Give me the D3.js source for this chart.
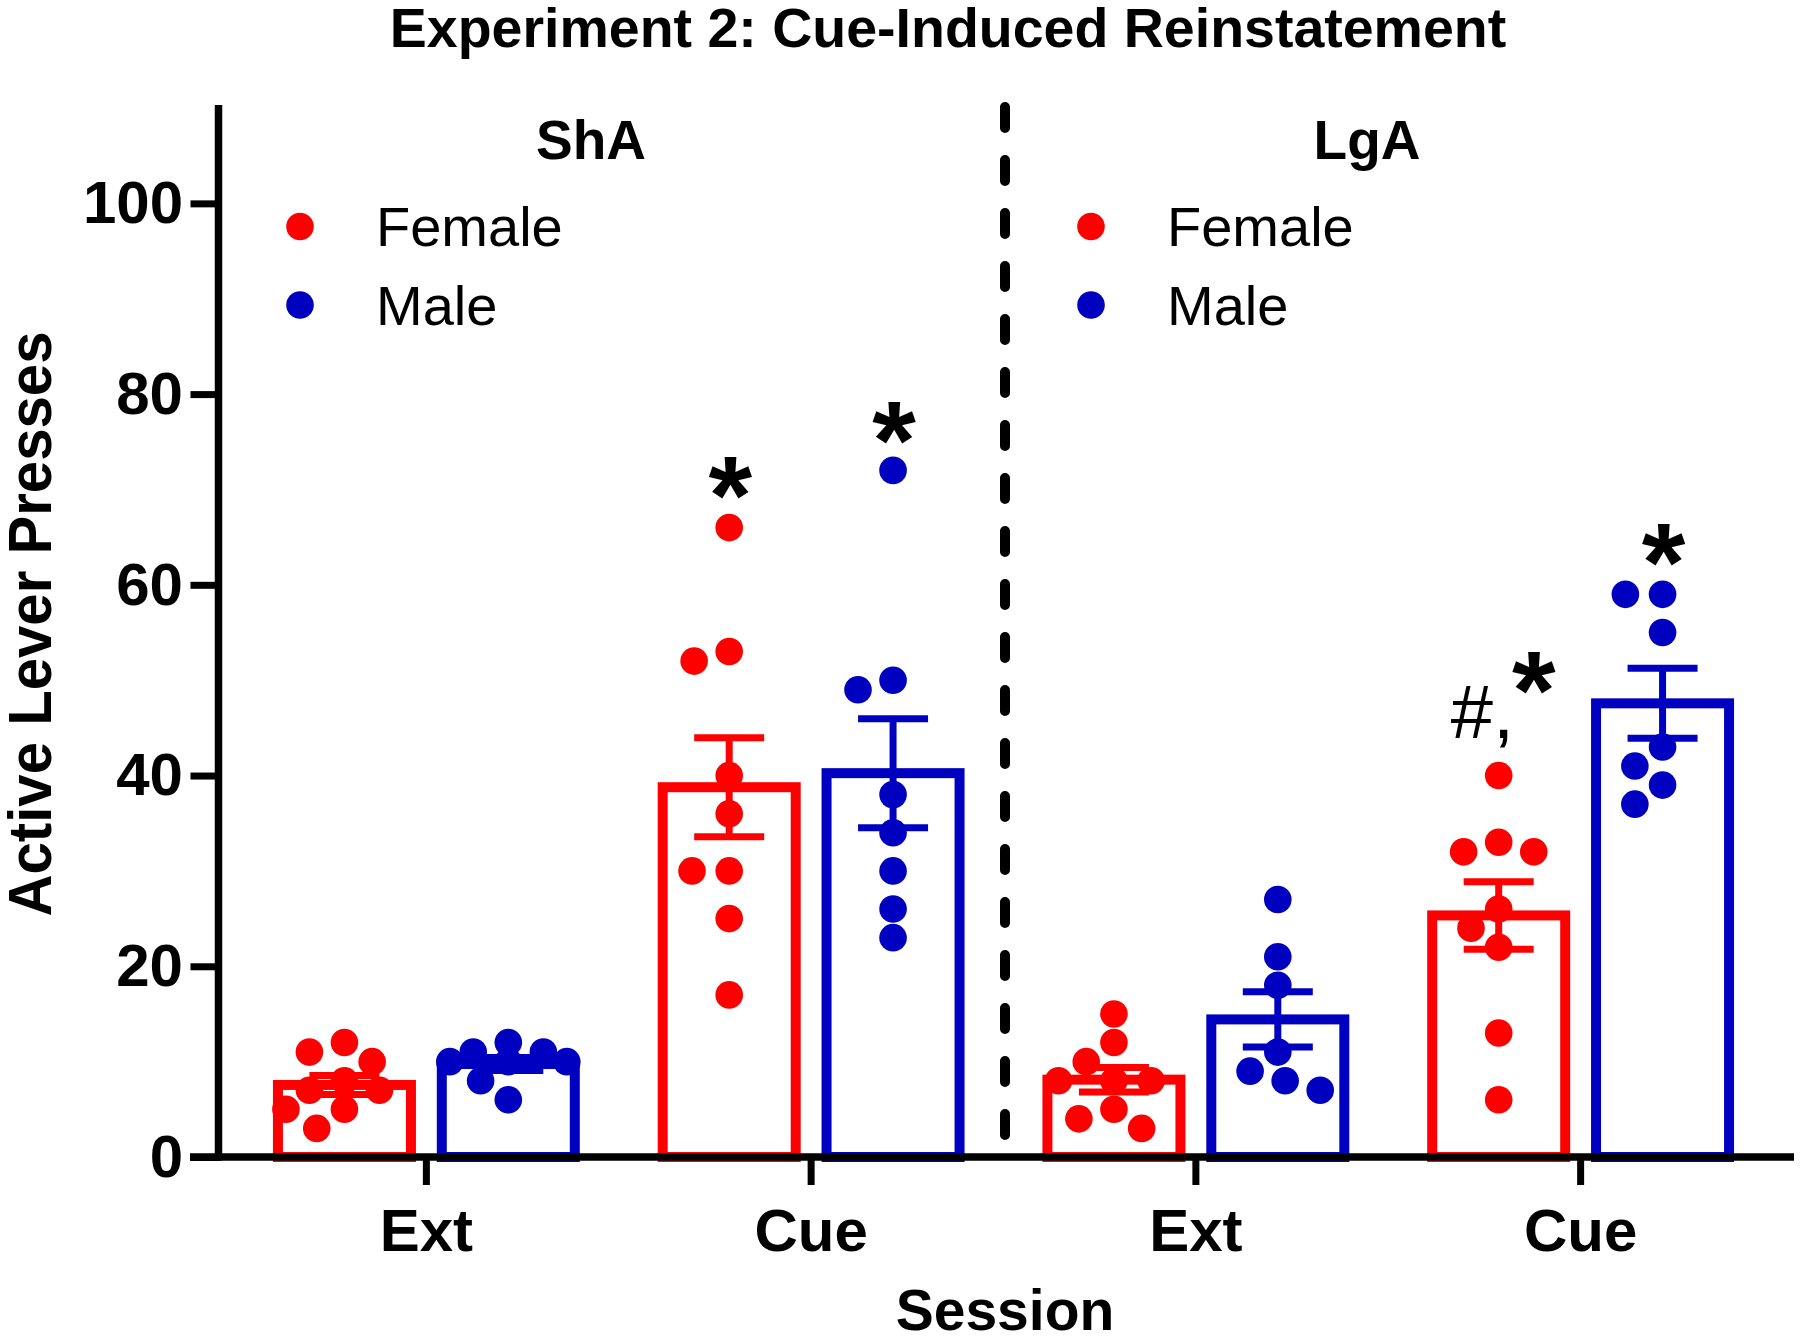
<!DOCTYPE html>
<html>
<head>
<meta charset="utf-8">
<script src="https://cdn.jsdelivr.net/npm/d3@7"></script>
<style>
  html, body { margin: 0; padding: 0; background: #ffffff; }
  svg { display: block; font-family: "Liberation Sans", Arial, Helvetica, sans-serif; }
</style>
</head>
<body>
<svg id="chart" width="1800" height="1338"></svg>
<script>
// ---------------- Data ----------------
const accessGroups = ["ShA", "LgA"];
const sessions = ["Ext", "Cue"];
const sexes = ["Female", "Male"];
const yTicks = [0, 20, 40, 60, 80, 100];

const shaExtFemale = [10, 12, 11, 7, 7, 8, 5, 5, 3];
const shaExtMale   = [11, 12, 10, 11, 10, 10, 8, 6];
const shaCueFemale = [66, 52, 53, 40, 36, 30, 30, 25, 17];
const shaCueMale   = [72, 50, 49, 38, 34, 30, 26, 23];
const lgaExtFemale = [10, 15, 12, 8, 8, 8, 3, 5, 4];
const lgaExtMale   = [27, 21, 18, 11, 9, 8, 7];
const lgaCueFemale = [40, 32, 33, 32, 26, 24, 22, 13, 6];
const lgaCueMale   = [59, 59, 55, 43, 41, 39, 37];

// significance labels: category, sex, text, value (data units) of label centre
const annotations = [
  { access: "ShA", session: "Cue", sex: "Female", text: "*",  value: 71.9 },
  { access: "ShA", session: "Cue", sex: "Male",   text: "*",  value: 77.7 },
  { access: "LgA", session: "Cue", sex: "Female", text: "#,", value: 44.0 },
  { access: "LgA", session: "Cue", sex: "Female", text: "*",  value: 51.5 },
  { access: "LgA", session: "Cue", sex: "Male",   text: "*",  value: 64.9 }
];

const colors = { Female: "#ff0000", Male: "#0000c0" };

const groups = [
  { access: "ShA", session: "Ext", sex: "Female", values: shaExtFemale },
  { access: "ShA", session: "Ext", sex: "Male",   values: shaExtMale },
  { access: "ShA", session: "Cue", sex: "Female", values: shaCueFemale },
  { access: "ShA", session: "Cue", sex: "Male",   values: shaCueMale },
  { access: "LgA", session: "Ext", sex: "Female", values: lgaExtFemale },
  { access: "LgA", session: "Ext", sex: "Male",   values: lgaExtMale },
  { access: "LgA", session: "Cue", sex: "Female", values: lgaCueFemale },
  { access: "LgA", session: "Cue", sex: "Male",   values: lgaCueMale }
];
groups.forEach(g => {
  g.mean = d3.mean(g.values);
  g.sem = d3.deviation(g.values) / Math.sqrt(g.values.length);
});

// ---------------- Layout ----------------
const svg = d3.select("#chart");
const FONT = '"Liberation Sans", Arial, Helvetica, sans-serif';
const axisX = 218.5, axisY = 1157;

const categories = [];
accessGroups.forEach(a => sessions.forEach(s => categories.push(a + "|" + s)));

const x0 = d3.scaleBand().domain(categories).range([234, 1773]).padding(0);
const x1 = d3.scaleBand().domain(sexes).range([0, x0.bandwidth()]).paddingOuter(0.174);
const y = d3.scaleLinear().domain([0, 110]).range([axisY, 108]);

const barW = 133;
const ptR = 13.8;
const cx = d => x0(d.access + "|" + d.session) + x1(d.sex) + x1.bandwidth() / 2;

// ---------------- Bars ----------------
svg.append("g").selectAll("rect").data(groups).join("rect")
  .attr("x", d => cx(d) - barW / 2)
  .attr("y", d => y(d.mean))
  .attr("width", barW)
  .attr("height", d => y(0) - y(d.mean))
  .attr("fill", "none")
  .attr("stroke", d => colors[d.sex])
  .attr("stroke-width", 10);

// ---------------- Error bars ----------------
const capW = 70;
const eb = svg.append("g").selectAll("g").data(groups).join("g")
  .attr("stroke", d => colors[d.sex]).attr("stroke-width", 7);
eb.append("line")
  .attr("x1", d => cx(d)).attr("x2", d => cx(d))
  .attr("y1", d => y(d.mean - d.sem)).attr("y2", d => y(d.mean + d.sem));
eb.append("line")
  .attr("x1", d => cx(d) - capW / 2).attr("x2", d => cx(d) + capW / 2)
  .attr("y1", d => y(d.mean + d.sem)).attr("y2", d => y(d.mean + d.sem));
eb.append("line")
  .attr("x1", d => cx(d) - capW / 2).attr("x2", d => cx(d) + capW / 2)
  .attr("y1", d => y(d.mean - d.sem)).attr("y2", d => y(d.mean - d.sem));

// ---------------- Points (beeswarm kept inside the bar width) ----------------
function swarm(values, centre) {
  const minD = 2 * ptR + 1;
  const sx = 1.3;                   // horizontal spread factor
  const maxOff = barW / 2 - 8;      // keep points within the bar
  const placed = [];
  const order = values.map((v, i) => ({ v, i })).sort((a, b) => b.v - a.v);
  const hits = (q, xx, yy) => ((q.x - xx) / sx) ** 2 + (q.y - yy) ** 2 < minD * minD - 0.01;
  order.forEach(p => {
    const py = y(p.v);
    let cands = [0, maxOff, -maxOff];
    placed.forEach(q => {
      const dy = Math.abs(q.y - py);
      if (dy < minD) {
        const dx = sx * Math.sqrt(minD * minD - dy * dy);
        cands.push(q.x - centre + dx, q.x - centre - dx);
      }
    });
    cands = cands.filter(c => Math.abs(c) <= maxOff + 0.01);
    cands.sort((a, b) => Math.abs(a) - Math.abs(b) || a - b);
    let best = null;
    for (const c of cands) {
      if (!placed.some(q => hits(q, centre + c, py))) { best = c; break; }
    }
    if (best === null) {
      let bestScore = Infinity;
      cands.forEach(c => {
        const score = d3.sum(placed, q => Math.max(0, minD - Math.hypot((q.x - centre - c) / sx, q.y - py)));
        if (score < bestScore - 0.01) { bestScore = score; best = c; }
      });
    }
    placed.push({ x: centre + best, y: py, v: p.v });
  });
  return placed;
}
const ptsG = svg.append("g");
groups.forEach(g => {
  ptsG.append("g").selectAll("circle").data(swarm(g.values, cx(g))).join("circle")
    .attr("cx", d => d.x).attr("cy", d => d.y).attr("r", ptR)
    .attr("fill", colors[g.sex]);
});

// ---------------- Dashed divider ----------------
svg.append("line")
  .attr("x1", 1005).attr("x2", 1005)
  .attr("y1", 107).attr("y2", 1142)
  .attr("stroke", "#000").attr("stroke-width", 10)
  .attr("stroke-dasharray", "21,32").attr("stroke-linecap", "round");

// ---------------- Axes ----------------
const yAxis = svg.append("g").attr("transform", `translate(${axisX},0)`)
  .call(d3.axisLeft(y).tickValues(yTicks).tickSize(28).tickPadding(7.5));
yAxis.select(".domain").remove();
yAxis.selectAll(".tick line").attr("stroke", "#000").attr("stroke-width", 7);
yAxis.selectAll(".tick text")
  .attr("font-family", FONT).attr("font-size", 60).attr("font-weight", "bold").attr("fill", "#000");

const xAxis = svg.append("g").attr("transform", `translate(0,${axisY})`)
  .call(d3.axisBottom(x0).tickSize(28).tickPadding(23).tickFormat(d => d.split("|")[1]));
xAxis.select(".domain").remove();
xAxis.selectAll(".tick line").attr("stroke", "#000").attr("stroke-width", 7);
xAxis.selectAll(".tick text")
  .attr("font-family", FONT).attr("font-size", 60).attr("font-weight", "bold").attr("fill", "#000");

svg.append("line").attr("x1", axisX).attr("x2", axisX)
  .attr("y1", y(110) - 3).attr("y2", axisY + 3.75)
  .attr("stroke", "#000").attr("stroke-width", 7.5);
svg.append("line").attr("x1", 190).attr("x2", 1794)
  .attr("y1", axisY).attr("y2", axisY)
  .attr("stroke", "#000").attr("stroke-width", 7.5);

// ---------------- Annotations ----------------
const annoG = svg.append("g");
annotations.forEach(a => {
  const g = groups.find(d => d.access === a.access && d.session === a.session && d.sex === a.sex);
  const c = cx(g);
  if (a.text === "*") {
    const dx = (a.access === "LgA" && a.sex === "Female") ? 35 : 1;
    annoG.append("text")
      .attr("x", c + dx).attr("y", y(a.value) + 63)
      .attr("text-anchor", "middle")
      .attr("font-family", FONT).attr("font-size", 112).attr("font-weight", "bold")
      .text(a.text);
  } else {
    annoG.append("text")
      .attr("x", c - 48).attr("y", y(a.value) + 1)
      .attr("font-family", FONT).attr("font-size", 76)
      .text(a.text);
  }
});

// ---------------- Titles & labels ----------------
svg.append("text").attr("x", 948).attr("y", 47).attr("text-anchor", "middle")
  .attr("font-family", FONT).attr("font-size", 55.5).attr("font-weight", "bold")
  .text("Experiment 2: Cue-Induced Reinstatement");

svg.append("text").attr("x", 1005).attr("y", 1330).attr("text-anchor", "middle")
  .attr("font-family", FONT).attr("font-size", 57).attr("font-weight", "bold")
  .text("Session");

svg.append("text")
  .attr("transform", "translate(51,624) rotate(-90)")
  .attr("text-anchor", "middle")
  .attr("font-family", FONT).attr("font-size", 62).attr("font-weight", "bold")
  .attr("textLength", 585).attr("lengthAdjust", "spacingAndGlyphs")
  .text("Active Lever Presses");

// group headers and legends
const groupHeaderX = { ShA: 591, LgA: 1367 };
const legendX = { ShA: 300, LgA: 1091 };
accessGroups.forEach(a => {
  svg.append("text").attr("x", groupHeaderX[a]).attr("y", 159).attr("text-anchor", "middle")
    .attr("font-family", FONT).attr("font-size", 55).attr("font-weight", "bold")
    .text(a);
  sexes.forEach((s, i) => {
    const cyL = 226.5 + i * 78.5;
    svg.append("circle").attr("cx", legendX[a]).attr("cy", cyL).attr("r", ptR).attr("fill", colors[s]);
    svg.append("text").attr("x", legendX[a] + 76).attr("y", cyL + 19.5)
      .attr("font-family", FONT).attr("font-size", 56)
      .text(s);
  });
});
</script>
</body>
</html>
